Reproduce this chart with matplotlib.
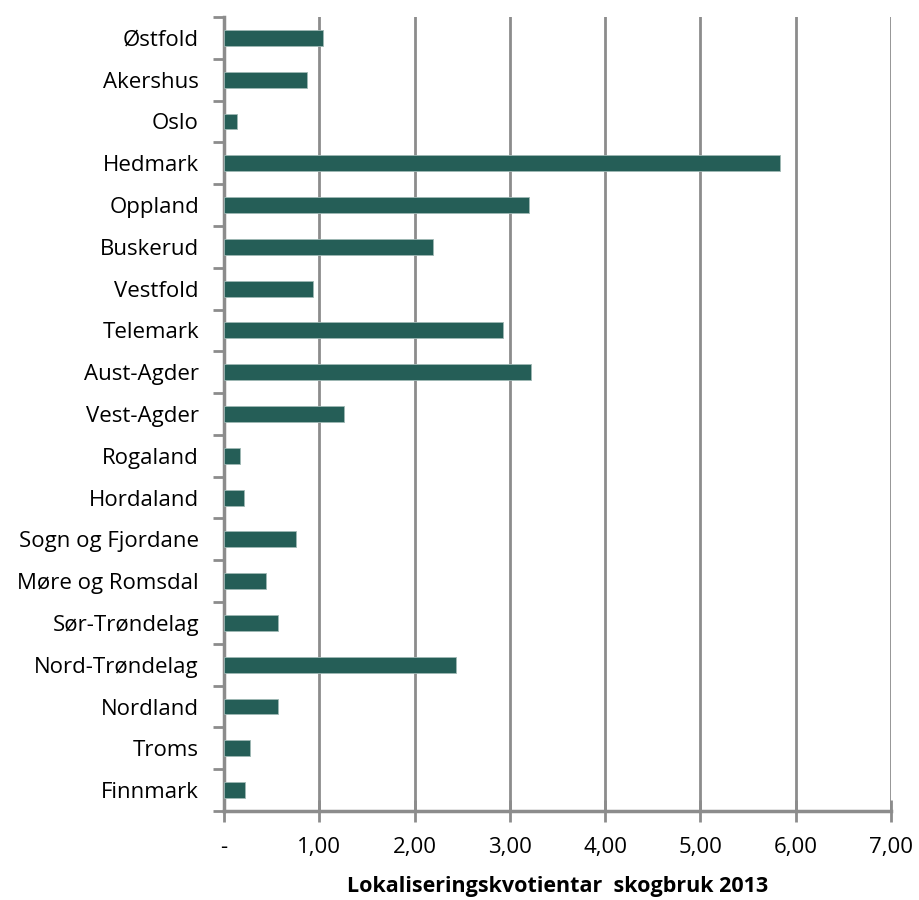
import matplotlib.pyplot as plt
import numpy as np

fylker = ["Østfold", "Akershus", "Oslo", "Hedmark", "Oppland", "Buskerud",
          "Vestfold", "Telemark", "Aust-Agder", "Vest-Agder", "Rogaland",
          "Hordaland", "Sogn og Fjordane", "Møre og Romsdal", "Sør-Trøndelag",
          "Nord-Trøndelag", "Nordland", "Troms", "Finnmark"]
kvotient = [1.04, 0.87, 0.14, 5.84, 3.20, 2.19, 0.93, 2.93, 3.22, 1.26,
            0.17, 0.21, 0.76, 0.44, 0.57, 2.44, 0.57, 0.27, 0.22]
x_ticks = [0, 1, 2, 3, 4, 5, 6, 7]
x_labels = ["-", "1,00", "2,00", "3,00", "4,00", "5,00", "6,00", "7,00"]

plt.rcParams['font.family'] = ['Open Sans', 'DejaVu Sans']
grey = "#8c8c8c"

fig = plt.figure(figsize=(9.19, 9.0), dpi=100)
ax = fig.add_axes([0.2437, 0.0989, 0.9695 - 0.2437, 0.9811 - 0.0989])

y = np.arange(len(fylker))
ax.barh(y, kvotient, height=0.38, color="#255e57", edgecolor="#9fb8b4",
        linewidth=0.6, zorder=3)

ax.set_xlim(0, 7)
ax.set_ylim(len(fylker) - 0.5, -0.5)
ax.set_xticks(x_ticks)
ax.set_xticklabels(x_labels, fontsize=16)
ax.set_yticks(y)
ax.set_yticklabels(fylker, fontsize=16)
ax.set_yticks(np.arange(len(fylker) + 1) - 0.5, minor=True)

ax.tick_params(axis="y", which="major", length=0, pad=18)
ax.tick_params(axis="y", which="minor", length=8, width=2, color=grey)
ax.tick_params(axis="x", which="major", direction="inout", length=16,
               width=2, color=grey, pad=11)

ax.grid(axis="x", color=grey, linewidth=2, zorder=0)
for side in ["top", "right"]:
    ax.spines[side].set_visible(False)
for side in ["left", "bottom"]:
    ax.spines[side].set_color(grey)
    ax.spines[side].set_linewidth(2.5)

ax.set_xlabel("Lokaliseringskvotientar  skogbruk 2013", fontsize=15.5,
              fontweight="bold", labelpad=13)

fig.savefig("out.png", dpi=100)
